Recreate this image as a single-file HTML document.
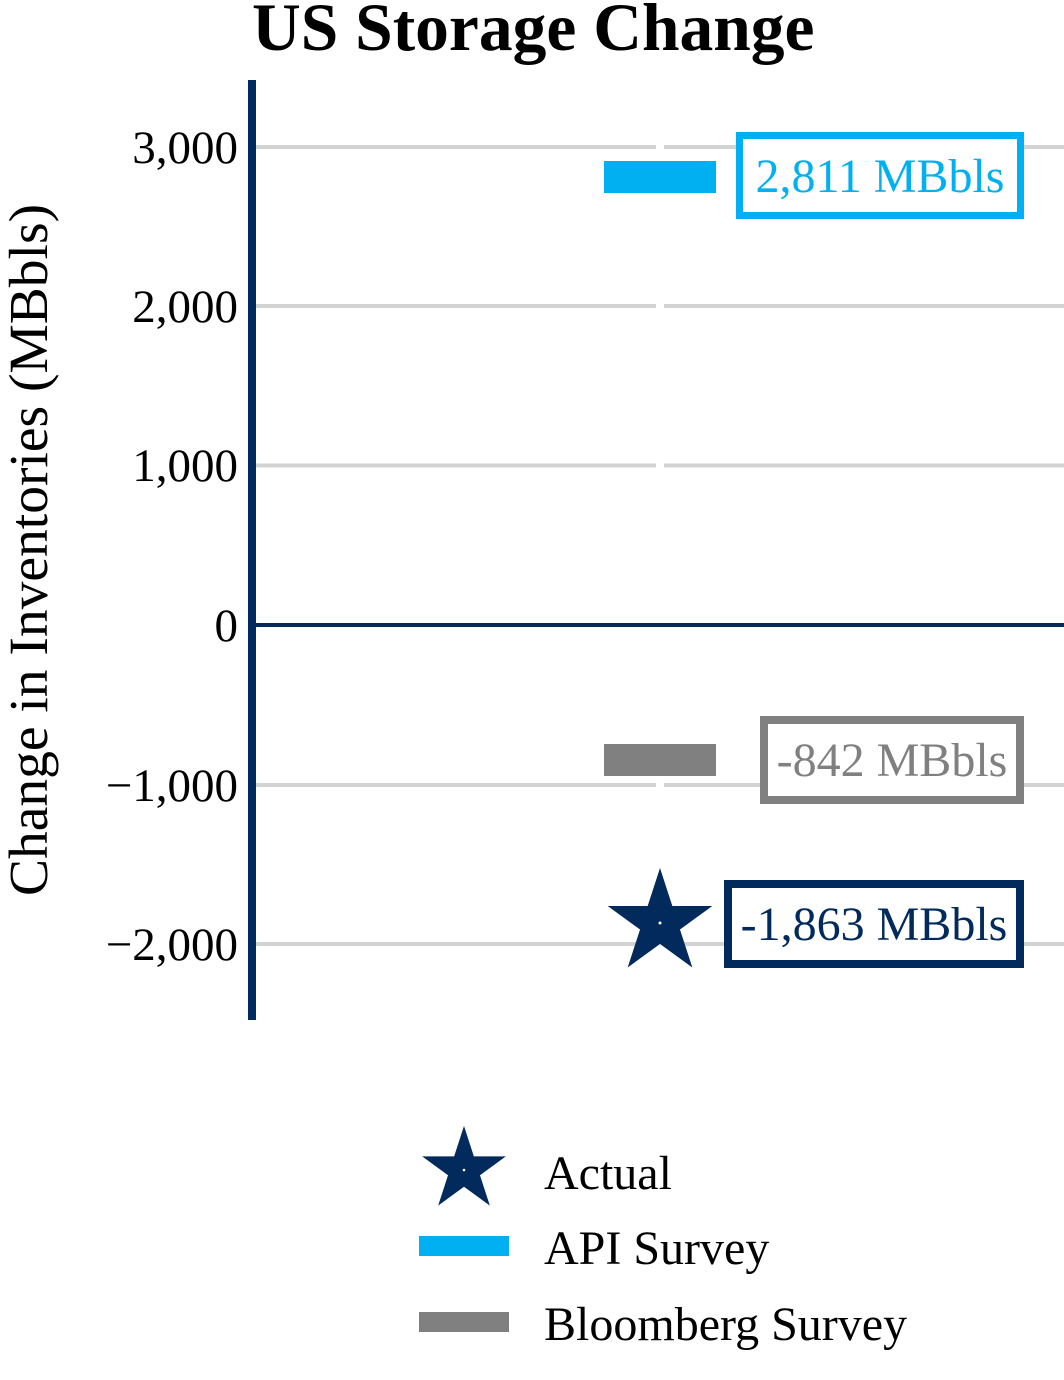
<!DOCTYPE html>
<html>
<head>
<meta charset="utf-8">
<style>
html,body{margin:0;padding:0;background:#fff;}
svg{display:block;}
text{font-family:"Liberation Serif","Times New Roman",serif;}
</style>
</head>
<body>
<svg width="1064" height="1380" viewBox="0 0 1064 1380" xmlns="http://www.w3.org/2000/svg">
<rect x="0" y="0" width="1064" height="1380" fill="#fff"/>
<!-- title -->
<text x="252" y="50" font-size="67.5" font-weight="bold" fill="#000">US Storage Change</text>
<!-- gridlines -->
<g fill="#d3d3d3">
<rect x="256" y="145" width="808" height="4"/>
<rect x="256" y="304" width="808" height="4"/>
<rect x="256" y="463.5" width="808" height="4"/>
<rect x="256" y="783" width="808" height="4"/>
<rect x="256" y="942" width="808" height="4"/>
</g>
<!-- white vertical gap (x gridline) -->
<rect x="656" y="80" width="8" height="940" fill="#fff"/>
<!-- zero line -->
<rect x="256" y="623" width="808" height="4" fill="#032a5c"/>
<!-- y axis -->
<rect x="248" y="80" width="8" height="940" fill="#032a5c"/>
<!-- tick labels -->
<g font-size="47" fill="#000" text-anchor="end">
<text x="238" y="163">3,000</text>
<text x="238" y="322">2,000</text>
<text x="238" y="481">1,000</text>
<text x="238" y="641">0</text>
<text x="238" y="801">−1,000</text>
<text x="238" y="960">−2,000</text>
</g>
<!-- y axis title -->
<text transform="translate(47,550) rotate(-90)" font-size="55.5" fill="#000" text-anchor="middle">Change in Inventories (MBbls)</text>
<!-- API bar -->
<rect x="604" y="161" width="112" height="32" fill="#00b0f0"/>
<!-- Bloomberg bar -->
<rect x="604" y="744" width="112" height="32" fill="#808080"/>
<!-- Actual star -->
<polygon points="660,868 672.34,906.01 712.31,906 679.97,929.49 692.33,967.5 660,944 627.67,967.5 640.03,929.49 607.69,906 647.66,906.01" fill="#032a5c"/>
<circle cx="660" cy="923" r="1.5" fill="#fff"/>
<!-- API box -->
<rect x="739.5" y="135.5" width="281" height="80" fill="#fff" stroke="#00b0f0" stroke-width="7"/>
<text x="880" y="192" font-size="48" fill="#00b0f0" text-anchor="middle">2,811 MBbls</text>
<!-- Bloomberg box -->
<rect x="764" y="720" width="256" height="80" fill="#fff" stroke="#808080" stroke-width="8"/>
<text x="892" y="776" font-size="48" fill="#808080" text-anchor="middle">-842 MBbls</text>
<!-- Actual box -->
<rect x="728" y="884" width="292" height="80" fill="#fff" stroke="#032a5c" stroke-width="8"/>
<text x="874" y="940" font-size="48" fill="#032a5c" text-anchor="middle">-1,863 MBbls</text>
<!-- legend -->
<polygon points="464,1126 473.88,1156.41 505.85,1156.4 479.98,1175.19 489.86,1205.6 464,1186.8 438.14,1205.6 448.02,1175.19 422.15,1156.4 454.12,1156.41" fill="#032a5c"/>
<circle cx="464" cy="1170" r="1.3" fill="#fff"/>
<rect x="419" y="1236" width="90" height="20" fill="#00b0f0"/>
<rect x="419" y="1312" width="90" height="20" fill="#808080"/>
<g font-size="48" fill="#000">
<text x="544" y="1189">Actual</text>
<text x="544" y="1264">API Survey</text>
<text x="544" y="1340">Bloomberg Survey</text>
</g>
</svg>
</body>
</html>
